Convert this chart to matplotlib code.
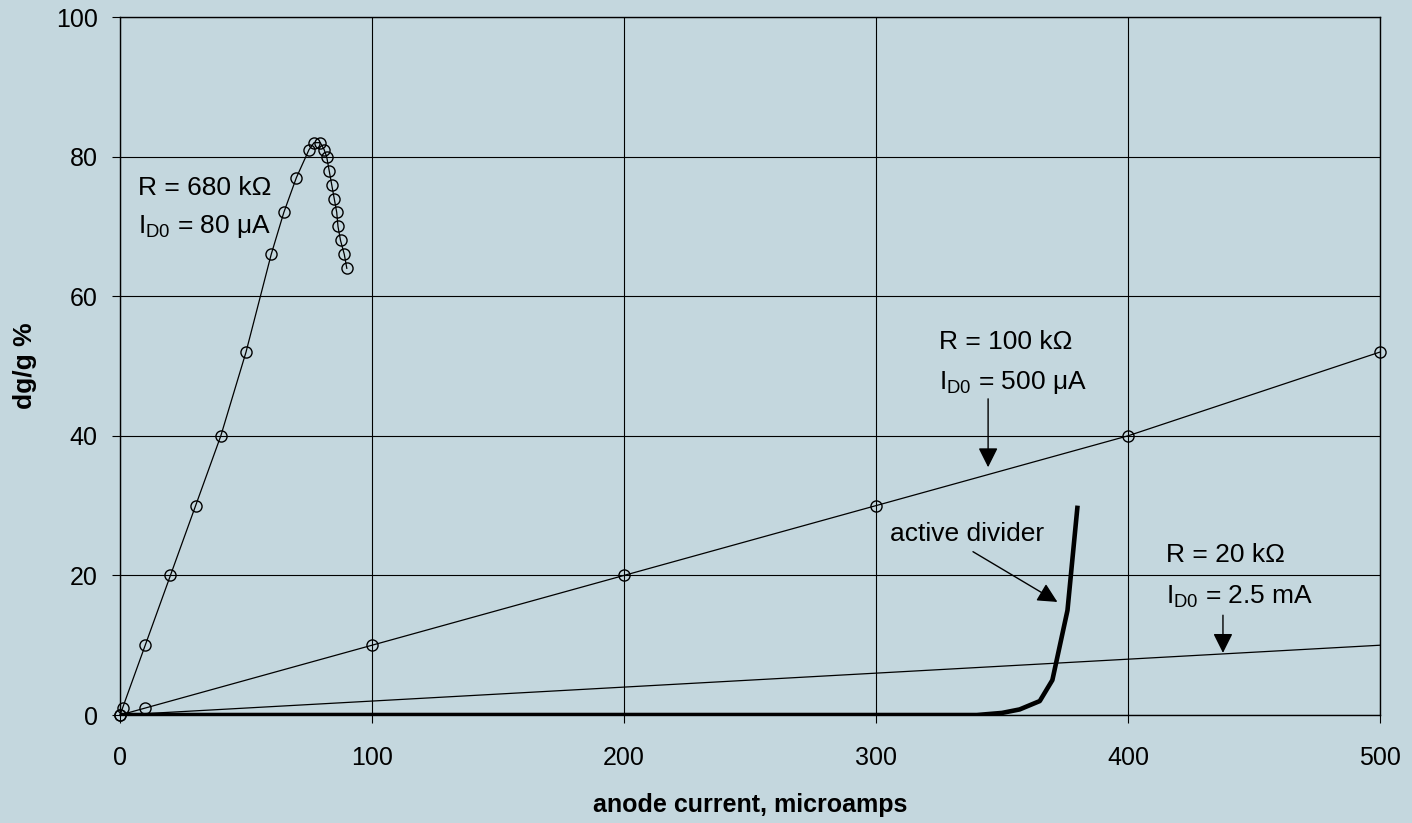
import numpy as np
import matplotlib
matplotlib.use('Agg')
import matplotlib.pyplot as plt

plt.rcParams['font.family'] = ['Liberation Sans', 'DejaVu Sans']
plt.rcParams['mathtext.fontset'] = 'custom'
plt.rcParams['mathtext.rm'] = 'Liberation Sans'
plt.rcParams['mathtext.it'] = 'Liberation Sans'

# R = 680 kOhm, I_D0 = 80 uA
i_680k = [0, 1, 10, 20, 30, 40, 50, 60, 65, 70, 75, 77, 79.5, 81, 82, 83,
          84, 85, 86, 86.5, 87.5, 89, 90]
dg_680k = [0, 1, 10, 20, 30, 40, 52, 66, 72, 77, 81, 82, 82, 81, 80, 78,
           76, 74, 72, 70, 68, 66, 64]

# R = 100 kOhm, I_D0 = 500 uA
i_100k = [0, 10, 100, 200, 300, 400, 500]
dg_100k = [0, 1, 10, 20, 30, 40, 52]

# R = 20 kOhm, I_D0 = 2.5 mA
i_20k = [0, 500]
dg_20k = [0, 10]

# active divider
i_active = [0, 100, 200, 300, 340, 350, 357, 365, 370, 376, 380]
dg_active = [0, 0, 0, 0, 0, 0.3, 0.8, 2, 5, 15, 30]

bg = '#C4D7DE'
fig = plt.figure(figsize=(14.12, 8.23), dpi=100, facecolor=bg)
ax = fig.add_axes([0.085, 0.1312, 0.8923, 0.8481], facecolor=bg)

ax.plot(i_20k, dg_20k, color='black', lw=0.9)
ax.plot(i_100k, dg_100k, color='black', lw=0.9, marker='o', ms=8,
        mfc='none', mec='black', mew=1.0, clip_on=False)
ax.plot(i_680k, dg_680k, color='black', lw=0.9, marker='o', ms=8,
        mfc='none', mec='black', mew=1.0, clip_on=False)
ax.plot(i_active, dg_active, color='black', lw=3.3, solid_capstyle='butt')

ax.set_xlim(0, 500)
ax.set_ylim(0, 100)
ax.set_xticks(np.arange(0, 501, 100))
ax.set_yticks(np.arange(0, 101, 20))
ax.grid(True, color='black', lw=0.8)
ax.set_axisbelow(True)
for s in ax.spines.values():
    s.set_color('black')
    s.set_linewidth(1.0)
ax.tick_params(direction='out', length=6, width=0.8, labelsize=18,
               colors='black')
ax.tick_params(axis='x', pad=16)
ax.tick_params(axis='y', pad=10)

ax.set_xlabel('anode current, microamps', fontsize=18, fontweight='bold',
              labelpad=17)
fig.text(25 / 1412, 1 - 366 / 823, 'dg/g %', fontsize=19, fontweight='bold',
         rotation=90, ha='center', va='center')

fs = 19
mu = '\u03bc'
ohm = '\u03a9'
arrow = dict(arrowstyle='-|>', color='black', lw=1.0,
             mutation_scale=30, shrinkA=0, shrinkB=0)

ax.text(7, 75.5, 'R = 680 k' + ohm, fontsize=fs, va='center')
ax.text(7, 70, r'I$_{\mathrm{D0}}$ = 80 ' + mu + 'A', fontsize=fs, va='center')

ax.text(325, 53.4, 'R = 100 k' + ohm, fontsize=fs, va='center')
ax.text(325, 47.7, r'I$_{\mathrm{D0}}$ = 500 ' + mu + 'A', fontsize=fs,
        va='center')
ax.annotate('', xy=(344.5, 35.5), xytext=(344.5, 45.3), arrowprops=arrow)

ax.text(305.5, 25.9, 'active divider', fontsize=fs, va='center')
ax.annotate('', xy=(372, 16.2), xytext=(338.5, 23.4), arrowprops=arrow)

ax.text(415, 22.9, 'R = 20 k' + ohm, fontsize=fs, va='center')
ax.text(415, 16.9, r'I$_{\mathrm{D0}}$ = 2.5 mA', fontsize=fs, va='center')
ax.annotate('', xy=(437.7, 8.9), xytext=(437.7, 14.3), arrowprops=arrow)

fig.savefig('out.png', dpi=100, facecolor=bg)
